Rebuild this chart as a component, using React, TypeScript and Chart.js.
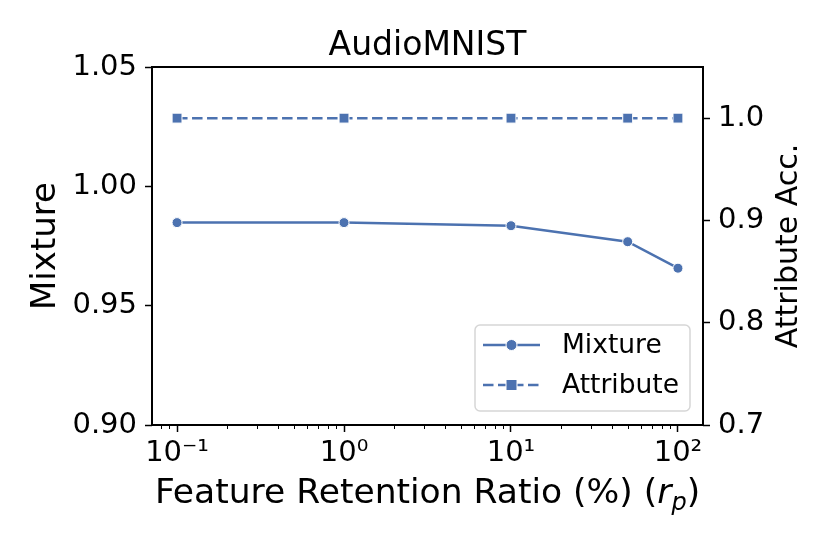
import { useEffect, useRef } from "react"
import { Chart, registerables } from "chart.js"

Chart.register(...registerables)

// data
const ratios = [0.1, 1, 10, 50, 100]
const mixture = [0.9848, 0.9848, 0.9835, 0.9768, 0.9657]
const attribute = [1.0, 1.0, 1.0, 1.0, 1.0]

const xTicks = [0.1, 1, 10, 100]
const xTickLabels = ["10⁻¹", "10⁰", "10¹", "10²"]
const leftTicks = [0.9, 0.95, 1.0, 1.05]
const rightTicks = [0.7, 0.8, 0.9, 1.0]

const BLUE = "#4c72b0"
const FONT = "DejaVu Sans"

const overlay = {
  id: "overlay",
  afterDraw(chart: any) {
    const { ctx, chartArea: a, scales } = chart
    const x = scales.x
    ctx.save()

    // minor ticks on the log axis
    ctx.strokeStyle = "#000"
    ctx.lineWidth = 1
    for (let e = -2; e <= 2; e++) {
      for (let m = 2; m <= 9; m++) {
        const v = m * Math.pow(10, e)
        if (v < x.min || v > x.max) continue
        const px = Math.round(x.getPixelForValue(v)) + 0.5
        ctx.beginPath()
        ctx.moveTo(px, a.bottom)
        ctx.lineTo(px, a.bottom + 4)
        ctx.stroke()
      }
    }

    // frame
    ctx.lineWidth = 2
    ctx.strokeRect(a.left, a.top, a.right - a.left, a.bottom - a.top)

    const cx = (a.left + a.right) / 2
    const cy = (a.top + a.bottom) / 2
    ctx.fillStyle = "#000"

    // title
    ctx.font = `33px ${FONT}`
    ctx.textAlign = "center"
    ctx.textBaseline = "alphabetic"
    ctx.fillText("AudioMNIST", cx, 55)

    // y titles
    ctx.save()
    ctx.font = `34px ${FONT}`
    ctx.translate(55, cy)
    ctx.rotate(-Math.PI / 2)
    ctx.fillText("Mixture", 0, 0)
    ctx.restore()
    ctx.save()
    ctx.font = `30px ${FONT}`
    ctx.translate(797, cy)
    ctx.rotate(-Math.PI / 2)
    ctx.fillText("Attribute Acc.", 0, 0)
    ctx.restore()

    // x title with italic r and subscript p
    const parts = [
      { t: "Feature Retention Ratio (%) (", f: `34.5px ${FONT}`, dy: 0 },
      { t: "r", f: `italic 34.5px ${FONT}`, dy: 0 },
      { t: "p", f: `italic 24px ${FONT}`, dy: 7 },
      { t: ")", f: `34.5px ${FONT}`, dy: 0 },
    ]
    let total = 0
    for (const p of parts) {
      ctx.font = p.f
      total += ctx.measureText(p.t).width
    }
    let px = cx - total / 2
    ctx.textAlign = "left"
    for (const p of parts) {
      ctx.font = p.f
      ctx.fillText(p.t, px, 503 + p.dy)
      px += ctx.measureText(p.t).width
    }

    // legend
    const lx = 475, ly = 325, lw = 215, lh = 86
    ctx.beginPath()
    ctx.roundRect(lx, ly, lw, lh, 5)
    ctx.fillStyle = "rgba(255,255,255,0.85)"
    ctx.fill()
    ctx.strokeStyle = "#d6d6d6"
    ctx.lineWidth = 1.5
    ctx.stroke()

    const rows = [
      { label: "Mixture", y: 345, dash: [] as number[], shape: "circle" },
      { label: "Attribute", y: 385, dash: [10.5, 4.5], shape: "rect" },
    ]
    for (const r of rows) {
      ctx.strokeStyle = BLUE
      ctx.lineWidth = 2.5
      ctx.setLineDash(r.dash)
      ctx.beginPath()
      ctx.moveTo(483, r.y)
      ctx.lineTo(540, r.y)
      ctx.stroke()
      ctx.setLineDash([])
      ctx.fillStyle = BLUE
      ctx.strokeStyle = "#fff"
      ctx.lineWidth = 1
      ctx.beginPath()
      if (r.shape === "circle") ctx.arc(511.5, r.y, 5.5, 0, Math.PI * 2)
      else ctx.rect(511.5 - 5.5, r.y - 5.5, 11, 11)
      ctx.fill()
      ctx.stroke()
      ctx.fillStyle = "#000"
      ctx.font = `26.5px ${FONT}`
      ctx.textBaseline = "middle"
      ctx.fillText(r.label, 562, r.y + 1)
    }

    ctx.restore()
  },
}

export default function App() {
  const chartRef = useRef<HTMLCanvasElement>(null)
  const chartInstance = useRef<Chart | null>(null)

  useEffect(() => {
    document.body.style.margin = "0"
    if (!chartRef.current) return
    if (chartInstance.current) chartInstance.current.destroy()
    const ctx = chartRef.current.getContext("2d")
    if (!ctx) return

    const tickFont = { family: FONT, size: 29 }
    const grid = {
      drawOnChartArea: false,
      drawTicks: true,
      tickLength: 7,
      tickWidth: 1.5,
      tickColor: "#000",
    }

    chartInstance.current = new Chart(ctx, {
      type: "line",
      data: {
        datasets: [
          {
            label: "Mixture",
            data: ratios.map((r, i) => ({ x: r, y: mixture[i] })),
            yAxisID: "y",
            borderColor: BLUE,
            backgroundColor: BLUE,
            borderWidth: 2.5,
            pointStyle: "circle",
            pointRadius: 5,
            pointBorderColor: "#fff",
            pointBorderWidth: 1,
            pointBackgroundColor: BLUE,
            tension: 0,
          },
          {
            label: "Attribute",
            data: ratios.map((r, i) => ({ x: r, y: attribute[i] })),
            yAxisID: "y1",
            borderColor: BLUE,
            backgroundColor: BLUE,
            borderWidth: 2.5,
            borderDash: [10.5, 4.5],
            pointStyle: "rect",
            pointRadius: 7,
            pointBorderColor: "#fff",
            pointBorderWidth: 1,
            pointBackgroundColor: BLUE,
            tension: 0,
          },
        ],
      },
      options: {
        responsive: false,
        animation: false,
        layout: { padding: { top: 67, left: 0, right: 0, bottom: 0 } },
        plugins: {
          legend: { display: false },
          tooltip: { enabled: false },
        },
        scales: {
          x: {
            type: "logarithmic",
            position: "bottom",
            min: Math.pow(10, -1.15),
            max: Math.pow(10, 2.15),
            border: { display: false },
            grid,
            ticks: {
              font: tickFont,
              color: "#000",
              padding: 4,
              maxRotation: 0,
              autoSkip: false,
              callback: (v: any) => {
                const i = xTicks.findIndex((t) => Math.abs(t - Number(v)) < 1e-9)
                return i >= 0 ? xTickLabels[i] : ""
              },
            },
            afterBuildTicks: (s: any) => {
              s.ticks = xTicks.map((v) => ({ value: v }))
            },
            afterFit: (s: any) => {
              s.height = 129
            },
          },
          y: {
            type: "linear",
            position: "left",
            min: 0.9,
            max: 1.05,
            border: { display: false },
            grid,
            ticks: {
              font: tickFont,
              color: "#000",
              padding: 8,
              callback: (v: any) => Number(v).toFixed(2),
            },
            afterBuildTicks: (s: any) => {
              s.ticks = leftTicks.map((v) => ({ value: v }))
            },
            afterFit: (s: any) => {
              s.width = 152
            },
          },
          y1: {
            type: "linear",
            position: "right",
            min: 0.7,
            max: 1.05,
            border: { display: false },
            grid,
            ticks: {
              font: tickFont,
              color: "#000",
              padding: 8,
              callback: (v: any) => Number(v).toFixed(1),
            },
            afterBuildTicks: (s: any) => {
              s.ticks = rightTicks.map((v) => ({ value: v }))
            },
            afterFit: (s: any) => {
              s.width = 127
            },
          },
        },
      },
      plugins: [overlay],
    })

    return () => {
      if (chartInstance.current) {
        chartInstance.current.destroy()
        chartInstance.current = null
      }
    }
  }, [])

  return (
    <div style={{ width: 830, height: 554 }}>
      <canvas ref={chartRef} width={830} height={554} style={{ display: "block" }} />
    </div>
  )
}
